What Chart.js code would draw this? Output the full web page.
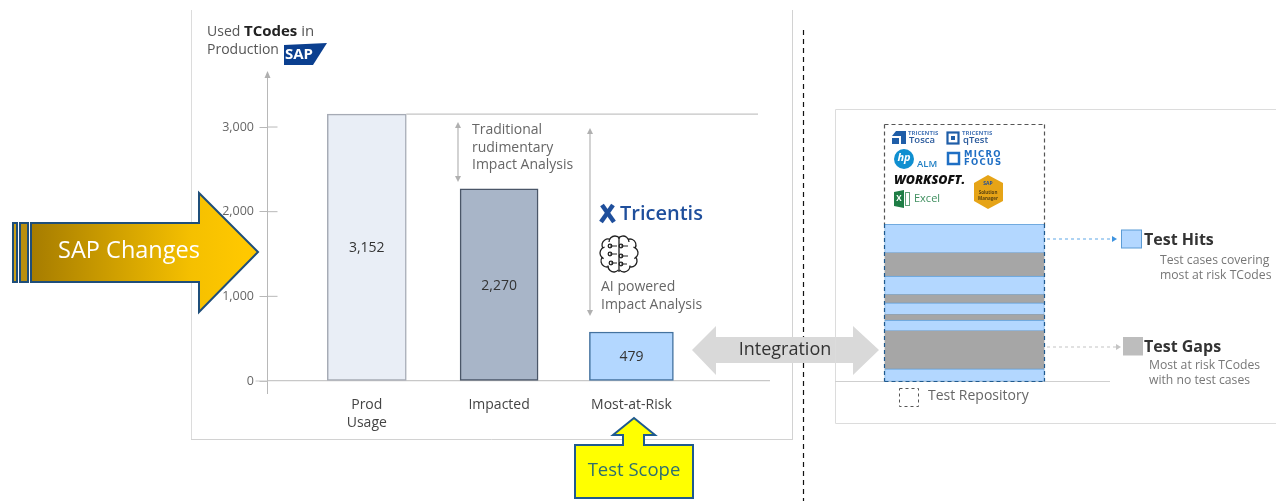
<!DOCTYPE html>
<html>
<head>
<meta charset="utf-8">
<title>Used TCodes in Production</title>
<script src="https://cdn.jsdelivr.net/npm/chart.js@4"></script>
<style>
	html, body { margin: 0; padding: 0; background: #fff; overflow: hidden; }
	canvas { position: absolute; left: 0; top: 0; }
</style>
</head>
<body>
<canvas id="usageChart" width="1276" height="501"></canvas>
<canvas id="repoChart" width="1276" height="501"></canvas>
<script>
const categories = [['Prod', 'Usage'], 'Impacted', 'Most-at-Risk'];
// bar height as drawn in the picture; the third bar stands taller than its printed 479
const barValues = [3152, 2270, 579];
const barLabels = ['3,152', '2,270', '479'];
const yTickValues = [0, 1000, 2000, 3000];
// repository bands from the bottom up, % of the column height
const repoBandShares = [8, 24, 7, 3.5, 7.5, 5, 12, 14.5, 18.5];
const repoBandKinds = ['hit', 'gap', 'hit', 'gap', 'hit', 'gap', 'hit', 'gap', 'hit'];

const FONT = '"Open Sans", sans-serif';
const barWidths = [79, 78, 84];
const barFills = ['#e9eef6', '#a8b5c8', '#b3d7ff'];
const barEdges = ['#a6abb5', '#4a5668', '#44729f'];
const HIT = '#b3d7ff';
const GAP = '#a6a6a6';

function text(ctx, str, x, y, font, color, align) {
	ctx.font = font;
	ctx.fillStyle = color;
	ctx.textAlign = align || 'left';
	ctx.textBaseline = 'middle';
	ctx.fillText(str, x, y);
}

function line(ctx, x1, y1, x2, y2, color, width, dash) {
	ctx.save();
	ctx.strokeStyle = color;
	ctx.lineWidth = width || 1;
	ctx.setLineDash(dash || []);
	ctx.beginPath();
	ctx.moveTo(x1, y1);
	ctx.lineTo(x2, y2);
	ctx.stroke();
	ctx.restore();
}

function poly(ctx, pts, fill, stroke, width) {
	ctx.beginPath();
	pts.forEach((p, i) => (i ? ctx.lineTo(p[0], p[1]) : ctx.moveTo(p[0], p[1])));
	ctx.closePath();
	if (fill) {
		ctx.fillStyle = fill;
		ctx.fill();
	}
	if (stroke) {
		ctx.strokeStyle = stroke;
		ctx.lineWidth = width || 1;
		ctx.stroke();
	}
}

function doubleArrow(ctx, x, top, bottom) {
	line(ctx, x, top + 5, x, bottom - 5, '#b5b5b5', 1.2);
	poly(ctx, [[x, top], [x - 3, top + 6], [x + 3, top + 6]], '#b0b0b0');
	poly(ctx, [[x, bottom], [x - 3, bottom - 6], [x + 3, bottom - 6]], '#b0b0b0');
}

function drawSapLogo(ctx) {
	poly(ctx, [[284, 45], [327, 43], [313, 65], [284, 65]], '#0b3f8f');
	text(ctx, 'SAP', 285, 55, 'bold 15px ' + FONT, '#fff');
}

function drawSapChangesArrow(ctx) {
	const edge = '#1f4e79';
	const grad = ctx.createLinearGradient(31, 0, 245, 0);
	grad.addColorStop(0, '#a67c00');
	grad.addColorStop(0.75, '#f5c000');
	grad.addColorStop(1, '#ffc800');
	poly(ctx, [[13, 223], [17, 223], [17, 282], [13, 282]], '#c9a018', edge, 2);
	poly(ctx, [[20, 223], [28, 223], [28, 282], [20, 282]], '#b98f10', edge, 2);
	poly(ctx, [[31, 223], [199, 223], [199, 193], [258, 252], [199, 312], [199, 282], [31, 282]], grad, edge, 2);
	text(ctx, 'SAP Changes', 129, 251, '23.5px ' + FONT, '#fff', 'center');
}

function drawBrain(ctx, cx, cy) {
	ctx.save();
	ctx.strokeStyle = '#222';
	ctx.lineWidth = 1.3;
	const lobes = [[4, -12, 6], [11, -9, 6], [13, -1, 6], [12, 7, 6], [5, 12, 6]];
	[-1, 1].forEach((side) => {
		lobes.forEach((l) => {
			const dx = l[0] * side;
			const mid = Math.atan2(l[1], dx);
			ctx.beginPath();
			ctx.arc(cx + dx, cy + l[1], l[2], mid - 1.25, mid + 1.25);
			ctx.stroke();
		});
	});
	line(ctx, cx, cy - 17, cx, cy + 18, '#222', 1.3);
	[[-9, -8, -2, -8], [-9, 0, -2, 0], [-8, 9, -2, 9], [2, -8, 9, -8], [2, 2, 9, 2], [2, 10, 8, 10]].forEach((s) => {
		line(ctx, cx + s[0], cy + s[1], cx + s[2], cy + s[3], '#222', 1);
		ctx.beginPath();
		ctx.arc(cx + s[0], cy + s[1], 1.8, 0, Math.PI * 2);
		ctx.stroke();
	});
	ctx.restore();
}

function drawTricentisLogo(ctx) {
	const navy = '#1f4f9c';
	line(ctx, 602, 205, 614, 222, navy, 4.5);
	line(ctx, 613, 205, 601, 222, navy, 4.5);
	text(ctx, 'Tricentis', 620, 214, '600 20px ' + FONT, navy);
}

const usageDecor = {
	id: 'usageDecor',
	beforeDraw(chart) {
		const ctx = chart.ctx;
		// panel frames and divider
		line(ctx, 191.5, 10, 191.5, 439.5, '#dcdcdc');
		line(ctx, 191, 439.5, 792.5, 439.5, '#d2d2d2');
		line(ctx, 792.5, 10, 792.5, 440, '#d2d2d2');
		line(ctx, 803.5, 30, 803.5, 501, '#111', 1.2, [5, 4]);
	},
	afterDraw(chart) {
		const ctx = chart.ctx;
		const y = chart.scales.y;
		const x = chart.scales.x;
		const axisX = x.left;
		const zero = y.getPixelForValue(0);

		// axis arrow, stub below zero, tick stubs right of the axis
		poly(ctx, [[axisX, 71], [axisX - 3, 78], [axisX + 3, 78]], '#b0b0b0');
		line(ctx, axisX, zero, axisX, zero + 13, '#b8b8b8');
		line(ctx, axisX - 12, zero, axisX, zero, '#c8c8c8');
		yTickValues.slice(1).forEach((v) => {
			const py = y.getPixelForValue(v);
			line(ctx, axisX, py, axisX + 10, py, '#b8b8b8');
		});

		// top reference line level with the tallest bar
		const top = y.getPixelForValue(barValues[0]);
		const firstBar = chart.getDatasetMeta(0).data[0];
		line(ctx, firstBar.x + firstBar.width / 2, top, 758, top, '#c4c4c4', 1.2);

		// value labels in the middle of each bar
		barLabels.forEach((label, i) => {
			const bar = chart.getDatasetMeta(i).data[0];
			text(ctx, label, bar.x, (bar.y + bar.base) / 2 + 1, '14px ' + FONT, '#333', 'center');
		});

		// title
		text(ctx, 'Used ', 207, 32, '14px ' + FONT, '#555');
		let w = ctx.measureText('Used ').width;
		text(ctx, 'TCodes', 207 + w, 32, 'bold 15px ' + FONT, '#222');
		w += ctx.measureText('TCodes').width;
		text(ctx, ' in', 207 + w, 32, '15px ' + FONT, '#555');
		text(ctx, 'Production', 207, 50, '14px ' + FONT, '#555');
		drawSapLogo(ctx);

		// impact analysis notes
		doubleArrow(ctx, 458, 122, 182);
		text(ctx, 'Traditional', 472, 130, '14px ' + FONT, '#666');
		text(ctx, 'rudimentary', 472, 148, '14px ' + FONT, '#666');
		text(ctx, 'Impact Analysis', 472, 165, '14px ' + FONT, '#666');
		doubleArrow(ctx, 590, 128, 316);
		drawTricentisLogo(ctx);
		drawBrain(ctx, 619, 254);
		text(ctx, 'AI powered', 601, 287, '14px ' + FONT, '#666');
		text(ctx, 'Impact Analysis', 601, 305, '14px ' + FONT, '#666');

		drawSapChangesArrow(ctx);

		// integration double arrow
		poly(ctx, [[692, 350], [716, 326], [716, 337], [853, 337], [853, 326], [879, 350], [853, 375], [853, 363], [716, 363], [716, 375]], '#d9d9d9');
		text(ctx, 'Integration', 785, 350, '18px ' + FONT, '#333', 'center');

		// test scope callout
		poly(ctx, [[575, 445], [623, 445], [623, 435], [613, 435], [634, 418], [655, 435], [644, 435], [644, 445], [693, 445], [693, 498], [575, 498]], '#ffff00', '#1f5a8f', 2);
		text(ctx, 'Test Scope', 634, 471, '18.5px ' + FONT, '#2f6f6f', 'center');
	},
};

new Chart(document.getElementById('usageChart'), {
	type: 'bar',
	data: {
		datasets: barValues.map((v, i) => ({
			data: [{ x: i + 1, y: v }],
			barThickness: barWidths[i],
			backgroundColor: barFills[i],
			borderColor: barEdges[i],
			borderWidth: 1.5,
			borderSkipped: false,
		})),
	},
	options: {
		responsive: false,
		animation: false,
		grouped: false,
		layout: { padding: { left: 217.5, top: 72, right: 507, bottom: 60 } },
		plugins: { legend: { display: false }, tooltip: { enabled: false } },
		scales: {
			x: {
				type: 'linear',
				offset: false,
				min: 0.2495,
				max: 4.04,
				afterBuildTicks: (s) => {
					s.ticks = categories.map((_, i) => ({ value: i + 1 }));
				},
				afterFit: (s) => {
					s.height = 60;
				},
				border: { color: '#c8c8c8', width: 1.2 },
				grid: { display: false, drawTicks: false },
				ticks: {
					autoSkip: false,
					maxRotation: 0,
					padding: 15,
					color: '#444',
					font: { family: FONT, size: 14, lineHeight: 1.3 },
					callback: (v) => categories[v - 1],
				},
			},
			y: {
				min: 0,
				max: 3650,
				afterBuildTicks: (s) => {
					s.ticks = yTickValues.map((v) => ({ value: v }));
				},
				afterFit: (s) => {
					s.width = 50;
				},
				border: { color: '#b8b8b8', width: 1 },
				grid: { drawOnChartArea: false, tickLength: 8, color: '#b8b8b8' },
				ticks: {
					padding: 5.5,
					color: '#666',
					font: { family: FONT, size: 12.5 },
					callback: (v) => v.toLocaleString('en-US'),
				},
			},
		},
	},
	plugins: [usageDecor],
});

function drawToolLogos(ctx) {
	const blue = '#1f5ea8';
	// Tosca
	poly(ctx, [[896, 131], [906, 131], [906, 144], [901, 144], [901, 136], [892, 136]], blue);
	poly(ctx, [[892, 138], [899, 138], [899, 144], [892, 144]], blue);
	text(ctx, 'TRICENTIS', 908, 133, 'bold 6px ' + FONT, '#4a78b8');
	text(ctx, 'Tosca', 909, 140, '600 9.5px ' + FONT, '#2a5a9c');
	// qTest
	ctx.strokeStyle = blue;
	ctx.lineWidth = 2.2;
	ctx.strokeRect(947.5, 132.5, 11, 11);
	poly(ctx, [[951, 136], [955, 136], [955, 140], [951, 140]], blue);
	text(ctx, 'TRICENTIS', 962, 133, 'bold 6px ' + FONT, '#4a78b8');
	text(ctx, 'qTest', 963, 140, '600 9.5px ' + FONT, '#2a5a9c');
	// HP ALM
	ctx.beginPath();
	ctx.arc(904, 159, 10, 0, Math.PI * 2);
	ctx.fillStyle = '#0f8fd0';
	ctx.fill();
	text(ctx, 'hp', 904, 158, 'italic bold 11px ' + FONT, '#fff', 'center');
	text(ctx, 'ALM', 917, 164, '600 9.5px ' + FONT, '#1f7fc4');
	// Micro Focus
	ctx.strokeStyle = '#1f6fc4';
	ctx.lineWidth = 2.5;
	ctx.strokeRect(948, 153, 11, 11);
	ctx.save();
	ctx.letterSpacing = '1.2px';
	text(ctx, 'MICRO', 964, 155, 'bold 8.5px "DejaVu Sans", sans-serif', '#1f6fc4');
	text(ctx, 'FOCUS', 964, 163, 'bold 8.5px "DejaVu Sans", sans-serif', '#1f6fc4');
	ctx.restore();
	// Worksoft
	text(ctx, 'WORKSOFT.', 894, 180, 'italic 800 12.5px ' + FONT, '#111');
	// Excel
	poly(ctx, [[894, 192], [904, 190], [904, 208], [894, 206]], '#1e7d45');
	text(ctx, 'X', 899, 199, 'bold 8px ' + FONT, '#fff', 'center');
	ctx.strokeStyle = '#5f9f78';
	ctx.lineWidth = 1;
	ctx.strokeRect(905.5, 192.5, 4, 13);
	text(ctx, 'Excel', 914, 199, '11px ' + FONT, '#3f8f5f');
	// Solution Manager
	poly(ctx, [[988, 175], [1003, 183], [1003, 201], [988, 209], [974, 201], [974, 183]], '#e6a417');
	text(ctx, 'SAP', 988, 184, 'bold 5px ' + FONT, '#1f4e9c', 'center');
	text(ctx, 'Solution', 988, 193, 'bold 4.5px ' + FONT, '#5a4310', 'center');
	text(ctx, 'Manager', 988, 199, 'bold 4.5px ' + FONT, '#5a4310', 'center');
}

const repoDecor = {
	id: 'repoDecor',
	beforeDraw(chart) {
		const ctx = chart.ctx;
		const a = chart.chartArea;
		// panel frame, open to the right
		line(ctx, 1276, 109.5, 835.5, 109.5, '#dcdcdc');
		line(ctx, 835.5, 109.5, 835.5, 423.5, '#dcdcdc');
		line(ctx, 835.5, 423.5, 1276, 423.5, '#dcdcdc');
		line(ctx, 835, a.bottom, 1110, a.bottom, '#cfcfcf');
		drawToolLogos(ctx);
	},
	afterDraw(chart) {
		const ctx = chart.ctx;
		const a = chart.chartArea;
		const dash = [4, 3];
		const dashColor = '#555';
		// repository outline
		line(ctx, a.left, 124.5, a.right, 124.5, dashColor, 1.2, dash);
		line(ctx, a.left, 124.5, a.left, a.top, dashColor, 1.2, dash);
		line(ctx, a.right, 124.5, a.right, a.top, dashColor, 1.2, dash);
		line(ctx, a.left, a.top, a.left, a.bottom, '#1f5a8f', 1.2, dash);
		line(ctx, a.right, a.top, a.right, a.bottom, '#1f5a8f', 1.2, dash);
		line(ctx, a.left, a.bottom, a.right, a.bottom, '#1f5a8f', 1.2, dash);

		// repository legend
		ctx.save();
		ctx.strokeStyle = '#555';
		ctx.setLineDash([3, 3]);
		ctx.strokeRect(899.5, 388.5, 19, 18);
		ctx.restore();
		text(ctx, 'Test Repository', 928, 396, '14px ' + FONT, '#666');

		// Test Hits call-out
		line(ctx, 1047, 239, 1112, 239, '#5ea8e8', 1, [3, 3]);
		poly(ctx, [[1117, 239], [1112, 236], [1112, 242]], '#3f94e0');
		ctx.fillStyle = HIT;
		ctx.fillRect(1121.5, 230, 20, 18);
		ctx.strokeStyle = '#5b9bd5';
		ctx.lineWidth = 1;
		ctx.strokeRect(1121.5, 230, 20, 18);
		text(ctx, 'Test Hits', 1144, 240, 'bold 16px ' + FONT, '#333');
		text(ctx, 'Test cases covering', 1160, 261, '12.2px ' + FONT, '#777');
		text(ctx, 'most at risk TCodes', 1160, 276, '12.2px ' + FONT, '#777');

		// Test Gaps call-out
		line(ctx, 1047, 347, 1116, 347, '#c4c4c4', 1, [3, 3]);
		poly(ctx, [[1121, 347], [1116, 344], [1116, 350]], '#c4c4c4');
		ctx.fillStyle = '#bdbdbd';
		ctx.fillRect(1123, 337, 20, 18.5);
		text(ctx, 'Test Gaps', 1144, 347, 'bold 16px ' + FONT, '#333');
		text(ctx, 'Most at risk TCodes', 1149, 366, '12.2px ' + FONT, '#777');
		text(ctx, 'with no test cases', 1149, 381, '12.2px ' + FONT, '#777');
	},
};

new Chart(document.getElementById('repoChart'), {
	type: 'bar',
	data: {
		labels: ['Test Repository'],
		datasets: repoBandShares.map((share, i) => ({
			data: [share],
			backgroundColor: repoBandKinds[i] === 'hit' ? HIT : GAP,
			borderColor: repoBandKinds[i] === 'hit' ? '#5b9bd5' : GAP,
			borderWidth: repoBandKinds[i] === 'hit' ? 1 : 0,
			borderSkipped: false,
			barPercentage: 1,
			categoryPercentage: 1,
		})),
	},
	options: {
		responsive: false,
		animation: false,
		layout: { padding: { left: 884.5, right: 231.5, top: 224, bottom: 119.5 } },
		plugins: { legend: { display: false }, tooltip: { enabled: false } },
		scales: {
			x: { stacked: true, display: false },
			y: { stacked: true, display: false, min: 0, max: 100 },
		},
	},
	plugins: [repoDecor],
});
</script>
</body>
</html>
